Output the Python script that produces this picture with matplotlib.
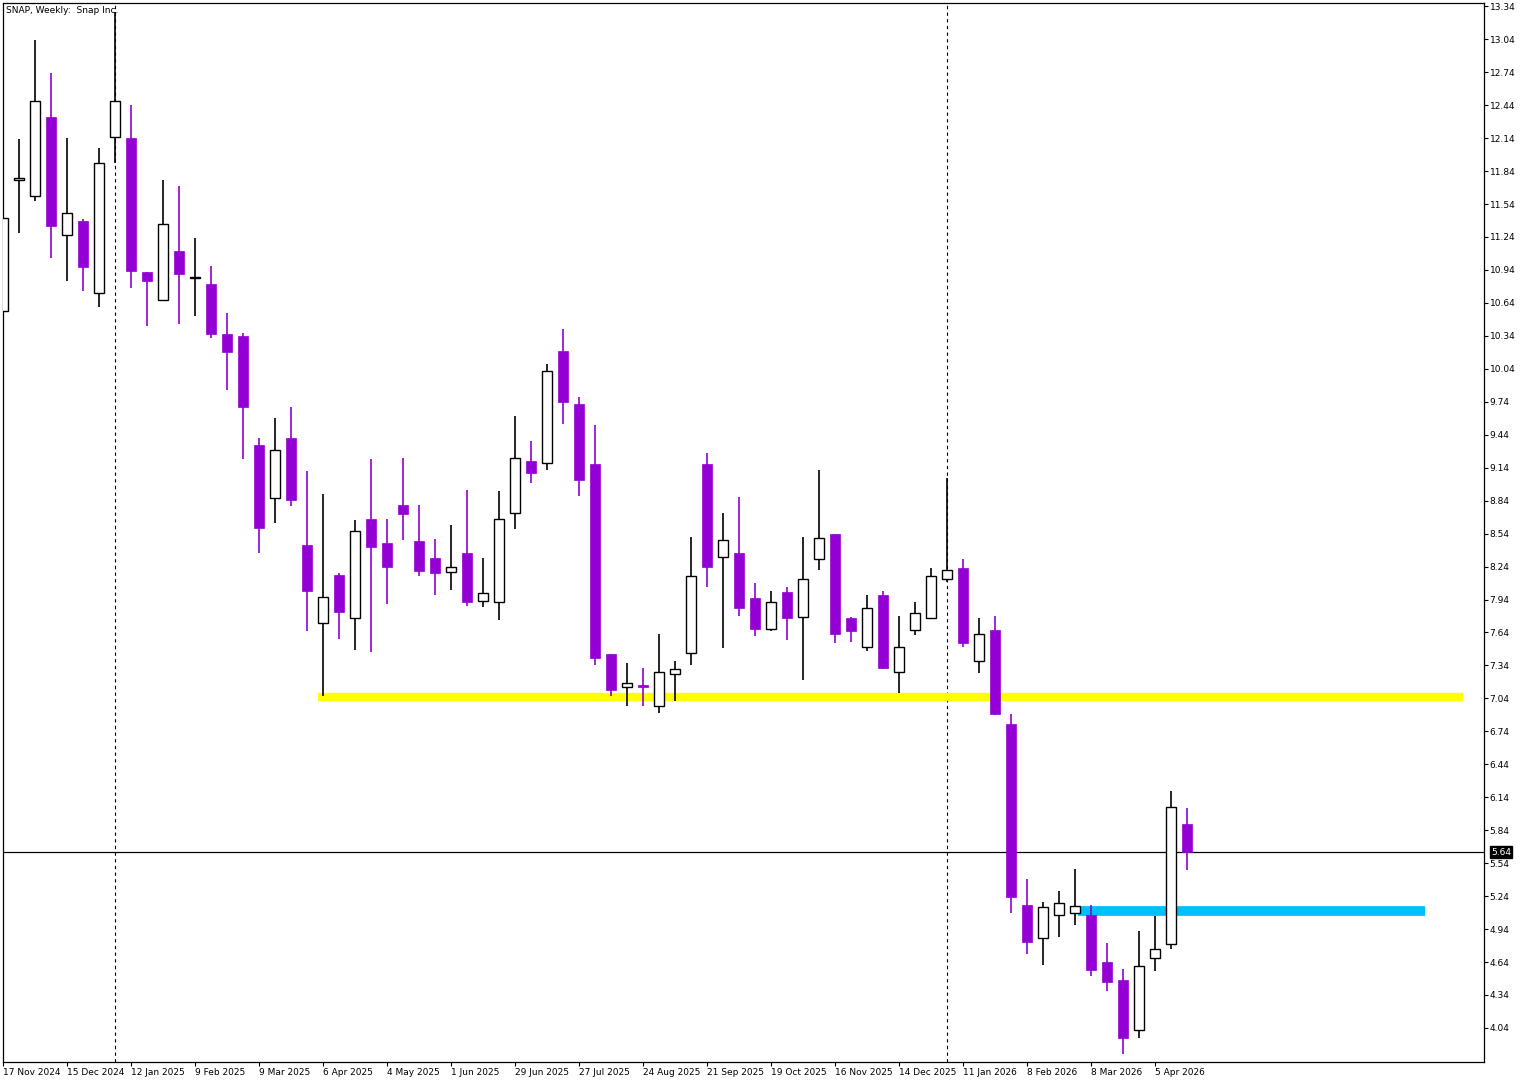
import matplotlib
matplotlib.use('Agg')
import matplotlib.pyplot as plt
import pandas as pd
import numpy as np

# Weekly OHLC
opens = [10.57, 11.76, 11.61, 12.33, 11.26, 11.39, 10.73, 12.15, 12.14, 10.92,
         10.67, 11.11, 10.87, 10.81, 10.36, 10.34, 9.35, 8.86, 9.41, 8.44,
         7.73, 8.16, 7.77, 8.67, 8.45, 8.80, 8.47, 8.32, 8.19, 8.36,
         7.93, 7.92, 8.73, 9.20, 9.18, 10.20, 9.72, 9.17, 7.44, 7.14,
         7.16, 6.97, 7.26, 7.45, 9.17, 8.33, 8.36, 7.95, 7.67, 8.01,
         7.78, 8.31, 8.54, 7.77, 7.51, 7.98, 7.28, 7.66, 7.77, 8.13,
         8.23, 7.38, 7.66, 6.81, 5.16, 4.86, 5.07, 5.09, 5.07, 4.64,
         4.48, 4.02, 4.68, 4.80, 5.90]
highs = [11.41, 12.13, 13.03, 12.73, 12.14, 11.40, 12.05, 13.29, 12.44, 10.92,
         11.76, 11.70, 11.23, 10.98, 10.55, 10.37, 9.41, 9.59, 9.69, 9.11,
         8.90, 8.18, 8.66, 9.22, 8.67, 9.23, 8.80, 8.49, 8.62, 8.94,
         8.32, 8.93, 9.61, 9.38, 10.08, 10.40, 9.78, 9.53, 7.44, 7.36,
         7.32, 7.63, 7.38, 8.51, 9.27, 8.73, 8.87, 8.09, 8.02, 8.05,
         8.51, 9.12, 8.54, 7.78, 7.98, 8.02, 7.79, 7.92, 8.23, 9.05,
         8.31, 7.77, 7.79, 6.90, 5.40, 5.19, 5.29, 5.49, 5.16, 4.81,
         4.58, 4.92, 5.06, 6.20, 6.04]
lows = [10.57, 11.28, 11.57, 11.05, 10.84, 10.75, 10.60, 11.91, 10.78, 10.43,
        10.66, 10.45, 10.52, 10.32, 9.85, 9.22, 8.36, 8.64, 8.79, 7.65,
        7.06, 7.58, 7.48, 7.46, 7.90, 8.48, 8.15, 7.98, 8.03, 7.88,
        7.87, 7.75, 8.58, 9.00, 9.12, 9.54, 8.88, 7.34, 7.06, 6.97,
        6.97, 6.91, 7.02, 7.34, 8.05, 7.50, 7.79, 7.61, 7.65, 7.57,
        7.21, 8.21, 7.54, 7.55, 7.47, 7.31, 7.09, 7.62, 7.76, 8.10,
        7.51, 7.27, 6.89, 5.09, 4.71, 4.61, 4.87, 4.98, 4.51, 4.38,
        3.80, 3.95, 4.56, 4.76, 5.48]
closes = [11.41, 11.78, 12.48, 11.34, 11.46, 10.97, 11.91, 12.48, 10.93, 10.84,
          11.36, 10.90, 10.88, 10.36, 10.19, 9.69, 8.59, 9.30, 8.85, 8.02,
          7.96, 7.83, 8.56, 8.42, 8.24, 8.72, 8.20, 8.18, 8.24, 7.92,
          8.00, 8.67, 9.23, 9.09, 10.02, 9.74, 9.03, 7.41, 7.12, 7.18,
          7.14, 7.28, 7.31, 8.15, 8.24, 8.48, 7.86, 7.67, 7.92, 7.77,
          8.13, 8.50, 7.63, 7.65, 7.86, 7.32, 7.51, 7.82, 8.15, 8.21,
          7.54, 7.63, 6.90, 5.23, 4.82, 5.14, 5.18, 5.15, 4.57, 4.46,
          3.95, 4.60, 4.76, 6.05, 5.64]

weeks = pd.date_range('2024-11-17', periods=len(opens), freq='7D')
year_breaks = [7, 59]           # first bars of 2025 and 2026
last_price = 5.64
yellow_level = 7.055
yellow_span = (19.7, 91.3)      # (start bar, end bar)
cyan_level = 5.105
cyan_span = (67.2, 88.9)

bull_col = 'white'
bear_col = '#9400D3'

W, H = 1526, 1083
fig = plt.figure(figsize=(W / 100, H / 100), dpi=100)
ax = fig.add_axes([3 / W, 1 - 1062 / H, (1484 - 3) / W, (1062 - 3) / H])

x = np.arange(len(opens))
o = np.array(opens); c = np.array(closes); h = np.array(highs); l = np.array(lows)
up = c >= o

# levels and separators behind candles
ax.hlines(yellow_level, *yellow_span, color='#FFFF00', lw=6, zorder=1)
ax.hlines(cyan_level, *cyan_span, color='#00BFFF', lw=7, zorder=1)
ax.axhline(last_price, color='black', lw=0.9, zorder=1)
for b in year_breaks:
    ax.axvline(b, color='black', lw=0.8, ls=(0, (3, 3)), zorder=0)

# wicks
ax.vlines(x[up], l[up], h[up], color='black', lw=1.2, zorder=2)
ax.vlines(x[~up], l[~up], h[~up], color=bear_col, lw=1.2, zorder=2)
# bodies
ax.bar(x[up], c[up] - o[up], bottom=o[up], width=0.62, color=bull_col,
       edgecolor='black', linewidth=1.0, zorder=3)
ax.bar(x[~up], o[~up] - c[~up], bottom=c[~up], width=0.62, color=bear_col,
       edgecolor=bear_col, linewidth=0.5, zorder=3)

ax.set_xlim(-0.02, 92.6)
ax.set_ylim(3.73, 13.37)

# price scale on the right
ax.yaxis.tick_right()
yt = np.round(np.arange(4.04, 13.35, 0.30), 2)
ax.set_yticks(yt)
ax.set_yticklabels([f'{v:.2f}' for v in yt])
ax.tick_params(axis='y', length=3, width=0.8, labelsize=6.5, pad=1)

xt = x[::4]
ax.set_xticks(xt)
ax.set_xticklabels([d.strftime('%-d %b %Y') for d in weeks[::4]], ha='left')
ax.tick_params(axis='x', length=3, width=0.8, labelsize=6.5, pad=1)

for s in ax.spines.values():
    s.set_linewidth(0.9)

ax.annotate(f'{last_price:.2f}', xy=(1.0, last_price), xycoords=('axes fraction', 'data'),
            xytext=(5, 0), textcoords='offset points', va='center', ha='left',
            fontsize=6.5, color='white',
            bbox=dict(boxstyle='square,pad=0.15', fc='black', ec='black'))

ax.text(0.002, 0.997, 'SNAP, Weekly:  Snap Inc.', transform=ax.transAxes,
        fontsize=6.5, va='top', ha='left')

fig.savefig('out.png', dpi=100)
